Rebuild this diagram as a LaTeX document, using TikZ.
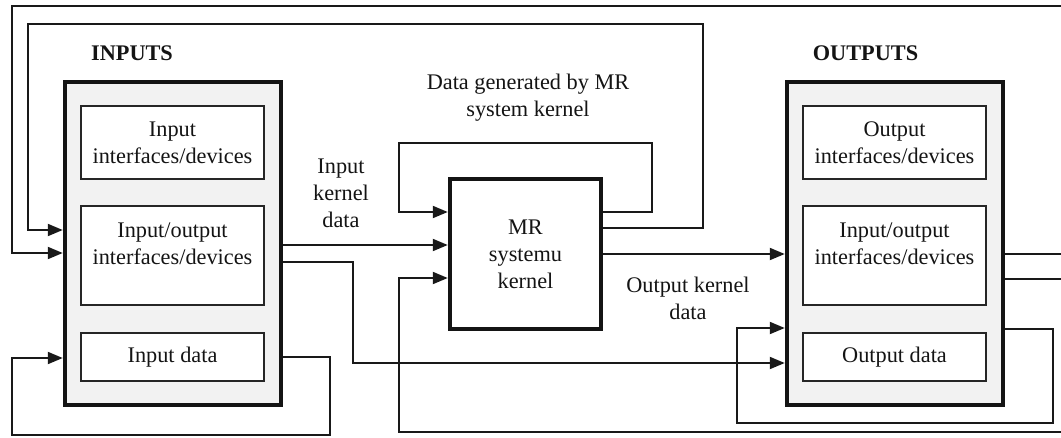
\documentclass[tikz,border=0pt]{standalone}
\usepackage{fontspec}
\setmainfont{Liberation Serif}
\usetikzlibrary{arrows.meta}
\begin{document}
\begin{tikzpicture}[x=1pt,y=-1pt,
 every node/.style={font=\fontsize{22.3}{27}\selectfont, text=black!92},
 big/.style={draw=black!92, line width=4.5pt, fill=black!5, minimum width=216pt, minimum height=323pt, inner sep=0pt},
 inbox/.style={draw=black!85, line width=2pt, fill=white, minimum width=183pt, inner sep=0pt, align=center},
 mrbox/.style={draw=black!92, line width=4.5pt, fill=white, minimum width=151pt, minimum height=150pt, align=center, inner sep=0pt},
 conn/.style={line width=2pt, draw=black!90},
 arr/.style={conn, -{Triangle[length=15pt,width=12pt]}},
 lbl/.style={align=center, inner sep=0pt},
 head/.style={font=\fontsize{22.3}{27}\selectfont\bfseries, inner sep=0pt}
]
\useasboundingbox (0,0) rectangle (1061,437);
\fill[white] (0,0) rectangle (1061,437);
\clip (0,0) rectangle (1061,437);

% main boxes
\node[big] (inbig) at (173,243.5) {};
\node[big] (outbig) at (895,243.5) {};
\node[inbox, minimum height=73pt] (in1) at (172.5,142.5) {Input\\interfaces/devices};
\node[inbox, minimum height=99pt] (in2) at (172.5,255.5) {};
\node[lbl] (in2t) at (172.5,243.5) {Input/output\\interfaces/devices};
\node[inbox, minimum height=48pt] (in3) at (172.5,357) {Input data};
\node[inbox, minimum height=73pt] (out1) at (894.5,142.5) {Output\\interfaces/devices};
\node[inbox, minimum height=99pt] (out2) at (894.5,255.5) {};
\node[lbl] (out2t) at (894.5,243.5) {Input/output\\interfaces/devices};
\node[inbox, minimum height=48pt] (out3) at (894.5,357) {Output data};
\node[mrbox] (mr) at (525.5,254) {MR\\systemu\\kernel};

% labels
\node[head] (inh) at (132,53) {INPUTS};
\node[head] (outh) at (865.5,53) {OUTPUTS};
\node[lbl] (gen) at (528,98) {Data generated by MR\\system kernel};
\node[lbl] (ikd) at (341,193) {Input\\kernel\\data};
\node[lbl] (okd) at (688,298) {Output kernel\\data};

% connectors
\draw[arr] (mr.east |- 0,228) -- (703,228) -- (703,24) -- (28,24) -- (28,230) -- (inbig.west |- 0,230);
\draw[arr] (outbig.east |- 0,254) -- (1075,254) -- (1075,6) -- (12,6) -- (12,253) -- (inbig.west |- 0,253);
\draw[arr] (outbig.east |- 0,279) -- (1075,279) -- (1075,432) -- (399,432) -- (399,278) -- (mr.west |- 0,278);
\draw[arr] (mr.east |- 0,212) -- (652,212) -- (652,143) -- (399,143) -- (399,212) -- (mr.west |- 0,212);
\draw[arr] (inbig.east |- 0,245) -- (mr.west |- 0,245);
\draw[arr] (inbig.east |- 0,262) -- (353,262) -- (353,363) -- (outbig.west |- 0,363);
\draw[arr] (mr.east |- 0,254) -- (outbig.west |- 0,254);
\draw[arr] (inbig.east |- 0,357) -- (330,357) -- (330,435) -- (12,435) -- (12,358) -- (inbig.west |- 0,358);
\draw[arr] (outbig.east |- 0,329) -- (1053,329) -- (1053,423) -- (737,423) -- (737,328) -- (outbig.west |- 0,328);
\end{tikzpicture}
\end{document}
